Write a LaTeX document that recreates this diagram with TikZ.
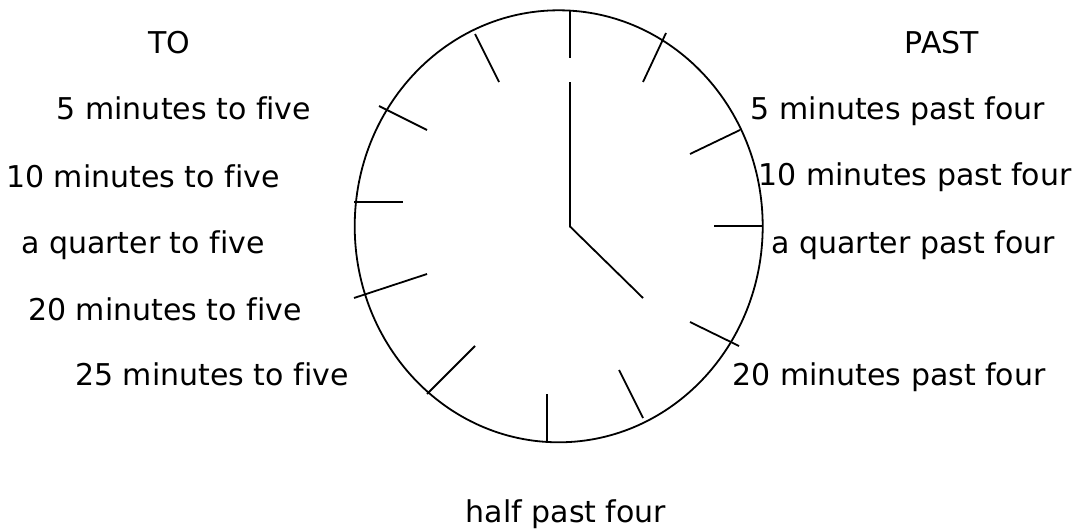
\documentclass[tikz,border=0pt]{standalone}
\usepackage{fontspec}
\setmainfont[Ligatures=NoCommon]{DejaVu Sans}
\usepackage{tikz}
\usetikzlibrary{shapes.geometric, positioning}
\tikzstyle{phrase} = [anchor=base, inner sep=0pt, font=\fontsize{30}{35}\selectfont]
\tikzstyle{face} = [ellipse, draw=black, line width=1.8pt, minimum width=408, minimum height=432, inner sep=0pt]
\tikzstyle{dial} = [line width=1.8pt]
\tikzstyle{hand} = [line width=1.8pt]

\begin{document}
\begin{tikzpicture}[x=1pt, y=-1pt]
\useasboundingbox (0,0) rectangle (1075,530);

% Clock face
\node (clock) [face] at (558.7,226.3) {};

% Minute marks
\foreach \a/\b in {{(570,11)}/{(570,58)}, {(666,33)}/{(643,82)}, {(740,130)}/{(690,154)},
  {(762,226)}/{(714,226)}, {(739,346)}/{(690,322)}, {(643,418)}/{(619,370)},
  {(547,441)}/{(547,394)}, {(427,394)}/{(475,346)}, {(354,298)}/{(427,274)},
  {(354,202)}/{(403,202)}, {(379,106)}/{(427,130)}, {(475,34)}/{(499,82)}}
  \draw[dial] \a -- \b;

% Hands
\coordinate (hub) at (570,226.5);
\coordinate (minute) at (570,82);
\coordinate (hour) at (643,298);
\draw[hand] (minute) -- (hub) -- (hour);

% To side
\node (to) [phrase] at (169,53) {TO};
\node (to5) [phrase] at (184,119) {5 minutes to five};
\node (to10) [phrase] at (143,187) {10 minutes to five};
\node (to15) [phrase] at (143,253) {a quarter to five};
\node (to20) [phrase] at (165,320) {20 minutes to five};
\node (to25) [phrase] at (212,385) {25 minutes to five};

% Past side
\node (past) [phrase] at (942,53) {PAST};
\node (past5) [phrase] at (898,119) {5 minutes past four};
\node (past10) [phrase] at (915,185) {10 minutes past four};
\node (past15) [phrase] at (913,253) {a quarter past four};
\node (past20) [phrase] at (889,385) {20 minutes past four};

\node (half) [phrase] at (566,522) {half past four};

\end{tikzpicture}
\end{document}
